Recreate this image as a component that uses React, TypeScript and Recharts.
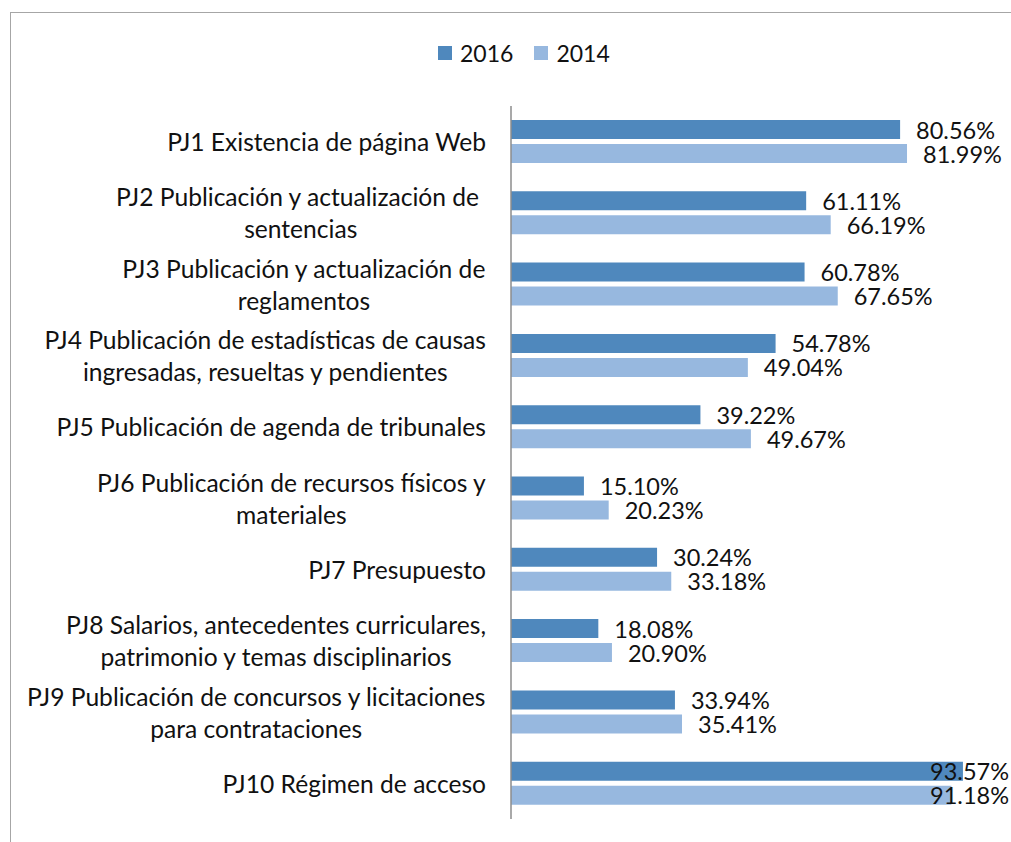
import React from "react"
import { BarChart, Bar, XAxis, YAxis, LabelList } from "recharts"

const categories = [
  "PJ1 Existencia de página Web",
  "PJ2 Publicación y actualización de \nsentencias",
  "PJ3 Publicación y actualización de\nreglamentos",
  "PJ4 Publicación de estadísticas de causas\ningresadas, resueltas y pendientes",
  "PJ5 Publicación de agenda de tribunales",
  "PJ6 Publicación de recursos físicos y\nmateriales",
  "PJ7 Presupuesto",
  "PJ8 Salarios, antecedentes curriculares,\npatrimonio y temas disciplinarios",
  "PJ9 Publicación de concursos y licitaciones\npara contrataciones",
  "PJ10 Régimen de acceso",
]
const values2016 = [80.56, 61.11, 60.78, 54.78, 39.22, 15.1, 30.24, 18.08, 33.94, 93.57]
const values2014 = [81.99, 66.19, 67.65, 49.04, 49.67, 20.23, 33.18, 20.9, 35.41, 91.18]
const seriesNames = ["2016", "2014"]
const colors = ["#4f88bd", "#97b8df"]

const W = 1011
const H = 842
const FONT = "Lato, 'Open Sans', sans-serif"
const TICK_SIZE = 24.6
const LABEL_SIZE = 23.5

const data = categories.map((name, i) => ({
  name,
  v2016: values2016[i],
  v2014: values2014[i],
}))

let ctx: CanvasRenderingContext2D | null = null
function measure(text: string, size: number) {
  if (!ctx) ctx = document.createElement("canvas").getContext("2d")
  if (!ctx) return text.length * size * 0.5
  ctx.font = `${size}px Lato`
  return ctx.measureText(text).width
}

function CategoryTick(props: any) {
  const { x, y, payload } = props
  const lines: string[] = String(payload.value).split("\n")
  const lineH = 32
  const top = y - ((lines.length - 1) * lineH) / 2
  if (lines.length === 1) {
    return (
      <text x={x} y={y} textAnchor="end" dominantBaseline="central" fontFamily={FONT} fontSize={TICK_SIZE} fill="#111">
        {lines[0]}
      </text>
    )
  }
  const maxW = Math.max(...lines.map(l => measure(l, TICK_SIZE)))
  const cx = x - maxW / 2
  return (
    <text textAnchor="middle" fontFamily={FONT} fontSize={TICK_SIZE} fill="#111" style={{ whiteSpace: "pre" }}>
      {lines.map((l, i) => (
        <tspan key={i} x={cx} y={top + i * lineH} dominantBaseline="central">
          {l}
        </tspan>
      ))}
    </text>
  )
}

function ValueLabel(props: any) {
  const { x, y, width, height, value } = props
  const text = `${Number(value).toFixed(2)}%`
  const w = measure(text, LABEL_SIZE)
  let tx = x + width + 16
  if (tx + w > W - 2) tx = W - 2 - w
  return (
    <text x={tx} y={y + height / 2} dominantBaseline="central" fontFamily={FONT} fontSize={LABEL_SIZE} fill="#111">
      {text}
    </text>
  )
}

export default function App() {
  return (
    <div style={{ position: "fixed", left: 0, top: 0, width: W, height: H, overflow: "hidden", background: "#fff" }}>
      <div
        style={{
          position: "absolute",
          left: 10,
          top: 12,
          width: 1100,
          height: 1000,
          borderTop: "1.5px solid #a6a6a6",
          borderLeft: "1.5px solid #a6a6a6",
        }}
      />
      {/* Legend */}
      <div
        style={{
          position: "absolute",
          top: 36,
          left: 438,
          display: "flex",
          alignItems: "center",
          fontFamily: FONT,
          fontSize: 23,
          color: "#111",
          height: 34,
        }}
      >
        {seriesNames.map((s, i) => (
          <div key={s} style={{ display: "flex", alignItems: "center", marginRight: 21 }}>
            <div style={{ width: 14, height: 14, background: colors[i], marginRight: 8 }} />
            <span>{s}</span>
          </div>
        ))}
      </div>
      <div style={{ position: "absolute", left: 0, top: 0 }}>
        <BarChart
          width={W}
          height={H}
          data={data}
          layout="vertical"
          margin={{ top: 106, right: 17, bottom: 23, left: 0 }}
          barSize={19}
          barGap={5}
        >
          <XAxis type="number" domain={[0, 100]} hide />
          <YAxis
            type="category"
            dataKey="name"
            width={511}
            tickLine={false}
            tickSize={0}
            tickMargin={25}
            axisLine={{ stroke: "#8c8c8c", strokeWidth: 1.5 }}
            tick={<CategoryTick />}
            interval={0}
          />
          <Bar dataKey="v2016" name={seriesNames[0]} fill={colors[0]} isAnimationActive={false}>
            <LabelList dataKey="v2016" content={<ValueLabel />} />
          </Bar>
          <Bar dataKey="v2014" name={seriesNames[1]} fill={colors[1]} isAnimationActive={false}>
            <LabelList dataKey="v2014" content={<ValueLabel />} />
          </Bar>
        </BarChart>
      </div>
    </div>
  )
}
